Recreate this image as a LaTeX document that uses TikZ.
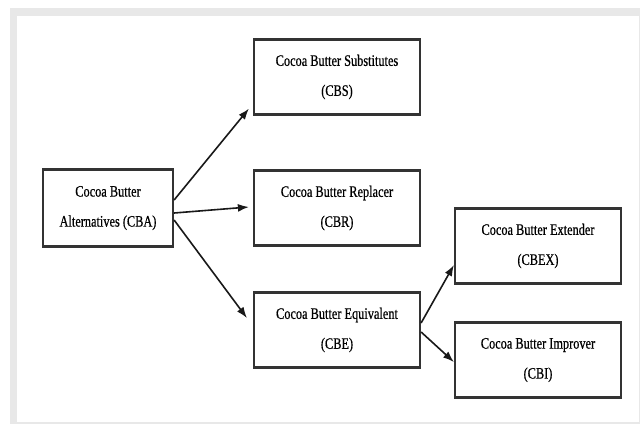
\documentclass[tikz,border=0pt]{standalone}
\usepackage{fontspec}
\setmainfont[FakeStretch=0.77,FakeBold=0.6]{Liberation Serif}
\usetikzlibrary{arrows.meta}
\tikzset{
	cbbox/.style={draw=black!80, line width=2.2pt, minimum width=166pt, minimum height=75pt,
		align=center, font=\fontsize{16}{30}\selectfont, inner sep=0pt},
	cbarrow/.style={-{Latex[length=11pt,width=8pt]}, line width=1.6pt, black!90}
}
\begin{document}
\begin{tikzpicture}[x=1pt,y=-1pt]
			\useasboundingbox (0,0) rectangle (641,424);
			\fill[black!9] (10,8) rectangle (640,424);
			\fill[white] (17,16) rectangle (639,422);

			\node(cba) [cbbox, minimum width=130pt, minimum height=77pt] at (108,208) {Cocoa Butter\\Alternatives (CBA)};
			\node(cbr) [cbbox, right of=cba, node distance=229pt] {Cocoa Butter Replacer\\(CBR)};
			\node(cbs) [cbbox, above of=cbr, node distance=131pt] {Cocoa Butter Substitutes\\(CBS)};
			\node(cbe) [cbbox, below of=cbr, node distance=122pt] {Cocoa Butter Equivalent\\(CBE)};
			\node(cbex) [cbbox, right of=cbe, node distance=201pt, yshift=84pt] {Cocoa Butter Extender\\(CBEX)};
			\node(cbi) [cbbox, right of=cbe, node distance=201pt, yshift=-30pt] {Cocoa Butter Improver\\(CBI)};

			\draw[cbarrow] ([yshift=8pt]cba.east) -- ([xshift=-4pt,yshift=7pt]cbs.south west);
			\draw[cbarrow] ([yshift=-5pt]cba.east) -- ([xshift=-4pt,yshift=1pt]cbr.west);
			\draw[cbarrow] ([yshift=-12pt]cba.east) -- ([xshift=-6pt,yshift=12pt]cbe.west);
			\draw[cbarrow] ([yshift=7pt]cbe.east) -- ([xshift=0pt,yshift=-19pt]cbex.west);
			\draw[cbarrow] ([yshift=-2pt]cbe.east) -- ([xshift=0pt,yshift=-2pt]cbi.west);
		\end{tikzpicture}
\end{document}
